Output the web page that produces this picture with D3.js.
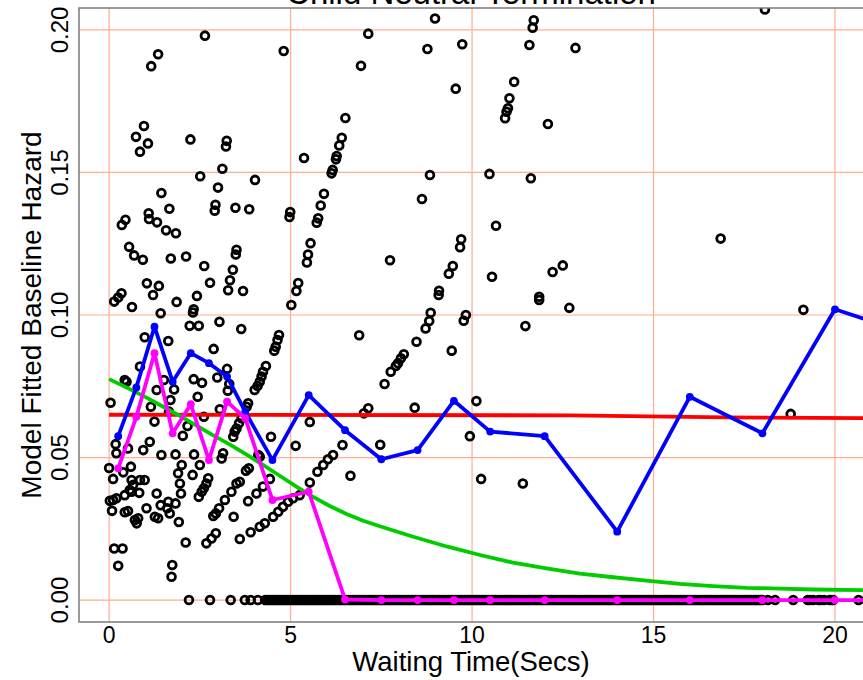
<!DOCTYPE html>
<html lang="en">
<head>
    <meta charset="UTF-8">
    <title>Child Neutral Termination</title>
    <script src="https://d3js.org/d3.v7.min.js"></script>
    <style>
        body { margin: 0; background: #fff; }
        svg { display: block; font-family: "Liberation Sans", Arial, sans-serif; }
    </style>
</head>
<body>
    <svg width="863" height="680"></svg>
    <script>
        // tick values
        const xTicks = [0, 5, 10, 15, 20];
        const yTicks = [0, 0.05, 0.10, 0.15, 0.20];

        const obsX = [4.81, 7.14, 6.94, 6.51, 6.41, 6.34, 6.27, 6.25, 6.16, 6.13, 5.37, 4.02, 4.99, 4.97, 5.92, 5.83, 5.76, 5.72,
            5.55, 5.48, 5.45, 5.21, 5.16, 7.74, 8.98, 8.77, 9.73, 9.55, 8.84, 8.62, 9.70, 9.67, 9.47, 9.36, 9.09, 9.08,
            11.70, 11.67, 11.58, 12.85, 11.16, 11.03, 10.99, 10.95, 10.91, 12.09, 10.48, 11.62, 10.66, 10.55, 12.22, 12.50,
            11.85, 16.85, 18.07, 2.64, 1.35, 1.16, 0.96, 0.74, 1.07, 0.85, 2.24, 3.24, 3.22, 2.51, 3.12, 1.44, 3.00, 1.66,
            1.09, 1.10, 1.32, 2.93, 2.91, 3.48, 3.86, 0.45, 0.35, 1.57, 1.84, 0.55, 0.69, 0.93, 1.70, 2.12, 2.62, 3.51,
            3.49, 3.41, 3.33, 3.28, 3.69, 2.78, 1.04, 1.37, 1.21, 0.34, 0.25, 0.14, 0.63, 1.86, 2.42, 2.33, 2.31, 1.42,
            5.02, 2.22, 2.47, 3.04, 3.64, 4.68, 4.64, 4.59, 4.55, 0.98, 1.63, 2.88, 3.25, 0.85, 4.32, 6.89, 0.43, 0.48,
            0.04, 1.31, 1.79, 1.51, 2.33, 2.56, 2.98, 4.24, 4.20, 4.15, 4.09, 4.01, 3.83, 3.79, 3.65, 3.58, 3.51, 3.46,
            3.42, 2.44, 1.69, 1.15, 1.25, 2.03, 2.16, 1.65, 2.61, 3.05, 3.27, 3.31, 0.18, 0.20, 0.52, 0.94, 1.12, 1.44,
            1.83, 2.34, 3.14, 3.10, 4.46, 5.14, 5.53, 7.47, 0.00, 0.11, 0.39, 0.60, 0.62, 0.66, 0.57, 0.85, 0.98, 2.00,
            1.90, 1.95, 1.98, 2.30, 2.50, 2.73, 2.68, 2.61, 2.55, 2.47, 0.02, 0.11, 0.20, 0.43, 0.62, 0.83, 1.31, 0.08,
            0.43, 0.52, 0.71, 0.80, 0.76, 1.03, 1.26, 1.35, 1.42, 1.63, 1.67, 1.60, 1.83, 1.92, 3.19, 3.03, 2.94, 2.87,
            3.37, 3.51, 3.60, 3.77, 3.85, 4.11, 4.15, 3.43, 3.83, 4.06, 4.24, 4.43, 3.60, 3.90, 4.15, 4.29, 4.52, 4.66,
            4.79, 4.93, 5.07, 5.25, 5.53, 2.68, 2.82, 2.94, 2.11, 0.14, 0.37, 0.25, 1.74, 1.72, 5.74, 5.90, 6.03, 6.17,
            6.43, 6.65, 7.02, 7.14, 8.86, 8.82, 8.72, 8.47, 8.12, 8.04, 7.96, 7.90, 7.76, 7.59, 9.83, 9.77, 9.44, 11.47,
            12.68, 11.85, 8.42, 10.12, 9.94, 10.25, 11.40, 19.13, 18.78];
        const obsY = [0.1926, 0.1987, 0.1874, 0.1691, 0.1622, 0.1595, 0.1558, 0.1546, 0.1509, 0.1497, 0.1551, 0.1474, 0.1361, 0.1344, 0.1425, 0.1384, 0.1339, 0.1324,
            0.1252, 0.1212, 0.1184, 0.1112, 0.1084, 0.1192, 0.2040, 0.1933, 0.1950, 0.1794, 0.1491, 0.1407, 0.1266, 0.1238, 0.1172, 0.1145, 0.1085, 0.1070,
            0.2034, 0.2008, 0.1947, 0.1937, 0.1818, 0.1760, 0.1725, 0.1713, 0.1690, 0.1670, 0.1495, 0.1480, 0.1313, 0.1134, 0.1151, 0.1174,
            0.1064, 0.1268, 0.2072, 0.1980, 0.1915, 0.1873, 0.1663, 0.1625, 0.1602, 0.1573, 0.1616, 0.1611, 0.1591, 0.1487, 0.1513, 0.1428, 0.1447, 0.1373,
            0.1357, 0.1337, 0.1325, 0.1387, 0.1366, 0.1376, 0.1371, 0.1334, 0.1316, 0.1297, 0.1287, 0.1239, 0.1209, 0.1194, 0.1198, 0.1205, 0.1172, 0.1229,
            0.1212, 0.1159, 0.1122, 0.1087, 0.1084, 0.1113, 0.1111, 0.1102, 0.1070, 0.1076, 0.1061, 0.1047, 0.1028, 0.1046, 0.1067, 0.1020, 0.1009, 0.1006,
            0.1035, 0.0962, 0.0962, 0.0976, 0.0951, 0.0930, 0.0912, 0.0889, 0.0875, 0.0922, 0.0909, 0.0881, 0.0811, 0.0819, 0.0821, 0.0929, 0.0772, 0.0766,
            0.0692, 0.0737, 0.0739, 0.0772, 0.0775, 0.0762, 0.0781, 0.0801, 0.0784, 0.0766, 0.0751, 0.0737, 0.0690, 0.0678, 0.0638, 0.0620, 0.0602, 0.0591,
            0.0573, 0.0713, 0.0702, 0.0678, 0.0626, 0.0576, 0.0611, 0.0661, 0.0643, 0.0669, 0.0734, 0.0758, 0.0547, 0.0515, 0.0532, 0.0526, 0.0555, 0.0509,
            0.0511, 0.0511, 0.0515, 0.0497, 0.0573, 0.0541, 0.0625, 0.0545, 0.0463, 0.0425, 0.0448, 0.0468, 0.0421, 0.0404, 0.0386, 0.0421, 0.0421, 0.0474,
            0.0445, 0.0409, 0.0374, 0.0439, 0.0474, 0.0427, 0.0409, 0.0392, 0.0380, 0.0362, 0.0348, 0.0351, 0.0357, 0.0368, 0.0380, 0.0376, 0.0374, 0.0313,
            0.0308, 0.0312, 0.0281, 0.0287, 0.0269, 0.0322, 0.0292, 0.0287, 0.0333, 0.0345, 0.0304, 0.0322, 0.0339, 0.0274, 0.0351, 0.0322, 0.0304, 0.0295,
            0.0380, 0.0409, 0.0415, 0.0454, 0.0462, 0.0509, 0.0503, 0.0292, 0.0347, 0.0374, 0.0398, 0.0425, 0.0214, 0.0238, 0.0257, 0.0269, 0.0292, 0.0310,
            0.0327, 0.0345, 0.0357, 0.0368, 0.0412, 0.0199, 0.0216, 0.0234, 0.0202, 0.0181, 0.0181, 0.0120, 0.0123, 0.0082, 0.0450, 0.0474, 0.0494, 0.0509,
            0.0544, 0.0436, 0.0655, 0.0673, 0.1008, 0.0979, 0.0953, 0.0906, 0.0862, 0.0848, 0.0831, 0.0821, 0.0801, 0.0758, 0.1000, 0.0980, 0.0875, 0.0961,
            0.1025, 0.1053, 0.0675, 0.0698, 0.0575, 0.0425, 0.0409, 0.1018, 0.0653];

        // times with zero observed hazard
        const zeroX = [2.2, 2.78, 3.35, 3.74, 3.9, 4.1, 4.3, 4.4, 4.5, 4.6, 4.7, 4.8, 4.9, 5.0, 5.1, 5.2, 5.3, 5.4, 5.5, 5.6,
            5.7, 5.8, 5.9, 6.0, 6.1, 6.2, 6.3, 6.4, 6.5, 6.6, 6.7, 6.8, 6.9, 7.0, 7.1, 7.2, 7.3, 7.4, 7.5, 7.6, 7.7, 7.8,
            7.9, 8.0, 8.1, 8.2, 8.3, 8.4, 8.5, 8.6, 8.7, 8.8, 8.9, 9.0, 9.1, 9.2, 9.3, 9.4, 9.5, 9.6, 9.7, 9.8, 9.9, 10.0,
            10.1, 10.2, 10.3, 10.4, 10.5, 10.6, 10.7, 10.8, 10.9, 11.0, 11.1, 11.2, 11.3, 11.4, 11.5, 11.6, 11.7, 11.8,
            11.9, 12.0, 12.1, 12.2, 12.3, 12.4, 12.5, 12.6, 12.7, 12.8, 12.9, 13.0, 13.1, 13.2, 13.3, 13.4, 13.5, 13.6,
            13.7, 13.8, 13.9, 14.0, 14.1, 14.2, 14.3, 14.4, 14.5, 14.6, 14.7, 14.8, 14.9, 15.0, 15.1, 15.2, 15.3, 15.4,
            15.5, 15.6, 15.7, 15.8, 15.9, 16.0, 16.1, 16.2, 16.3, 16.4, 16.5, 16.6, 16.7, 16.8, 16.9, 17.0, 17.1, 17.2,
            17.3, 17.4, 17.5, 17.6, 17.7, 17.8, 17.9, 18.0, 18.15, 18.35, 18.85, 19.25, 19.4, 19.55, 19.7, 19.85, 19.95, 20.65];
        const zeroX2 = [4.35, 4.45, 4.55, 4.65, 4.75, 4.85, 4.95, 5.05, 5.15, 5.25, 5.35, 5.45, 5.55, 5.65, 5.75, 5.85,
            5.95, 6.05, 6.15, 6.25, 6.35, 6.45, 6.55, 6.65, 6.75, 6.85, 6.95, 7.05, 7.15, 7.25, 7.35, 7.45, 7.55, 7.65,
            7.75, 7.85, 7.95, 8.05, 8.15, 8.25, 8.35, 8.45, 8.55, 8.65, 8.75, 8.85, 8.95, 9.05, 9.15, 9.25, 9.35, 9.45,
            9.55, 9.65, 9.75, 9.85, 9.95, 10.05, 10.15, 10.25, 10.35, 10.45, 10.55, 10.65, 10.75, 10.85, 10.95, 11.05,
            11.15, 11.25, 11.35, 11.45, 11.55, 11.65, 11.75, 11.85, 11.95, 12.05, 12.15, 12.25, 12.35, 12.45, 12.55,
            12.65, 12.75, 12.85, 12.95, 13.05, 13.15, 13.25, 13.35, 13.45, 13.55, 13.65, 13.75, 13.85, 13.95, 14.05,
            14.15, 14.25, 14.35, 14.45, 14.55, 14.65, 14.75, 14.85, 14.95, 15.05, 15.15, 15.25, 15.35, 15.45, 15.55,
            15.65, 15.75, 15.85, 15.95, 16.05, 16.15, 16.25, 16.35, 16.45, 16.55, 16.65, 16.75, 16.85, 16.95, 17.05,
            17.15, 17.25, 17.35, 17.45, 17.55, 17.65, 17.75, 17.85, 17.95, 19.3, 19.6, 19.9];

        // constant-ish fitted hazard (red)
        const redX = [0, 12.7, 17.0, 20.8];
        const redY = [0.0650, 0.0648, 0.0641, 0.0638];

        // decaying fitted hazard (green)
        const greenX = [0, 0.57, 1.03, 1.49, 1.95, 2.41, 2.87, 3.33, 3.79, 4.24, 4.70, 5.16, 5.62, 6.08, 6.54, 7.0, 7.46,
            8.38, 9.30, 10.22, 11.13, 12.05, 12.97, 13.89, 14.81, 15.73, 16.64, 17.56, 18.48, 19.40, 20.77];
        const greenY = [0.0775, 0.0740, 0.0710, 0.0678, 0.0646, 0.0612, 0.0578, 0.0545, 0.0510, 0.0474, 0.0436, 0.0398, 0.0362,
            0.0330, 0.0302, 0.0278, 0.0259, 0.0222, 0.0188, 0.0158, 0.0131, 0.0111, 0.0093, 0.0080, 0.0068, 0.0057, 0.0049,
            0.0043, 0.0040, 0.0037, 0.0035];

        // interval-based estimates (blue, magenta)
        const stepX = [0.25, 0.75, 1.25, 1.75, 2.25, 2.75, 3.25, 3.75, 4.5, 5.5, 6.5, 7.5, 8.5, 9.5, 10.5, 12, 14, 16, 18, 20, 22];
        const blueY = [0.0575, 0.0746, 0.0959, 0.0766, 0.0866, 0.0831, 0.0784, 0.0661, 0.0491, 0.0719, 0.0596, 0.0494,
            0.0526, 0.0699, 0.0591, 0.0575, 0.0240, 0.0713, 0.0585, 0.1020, 0.0937];
        const magentaY = [0.0462, 0.0643, 0.0866, 0.0585, 0.0687, 0.0491, 0.0696, 0.0638, 0.0351, 0.0380, 0.0002,
            0, 0, 0, 0, 0, 0, 0, 0, 0, 0];

        const svg = d3.select("svg");
        const plotLeft = 79, plotRight = 864, plotTop = 8, plotBottom = 622;

        const x = d3.scaleLinear().domain([-0.83, 20.8]).range([plotLeft, plotRight]);
        const y = d3.scaleLinear().domain([-0.0077, 0.2077]).range([plotBottom, plotTop]);

        svg.append("defs").append("clipPath").attr("id", "plotClip")
            .append("rect").attr("x", plotLeft).attr("y", plotTop)
            .attr("width", plotRight - plotLeft).attr("height", plotBottom - plotTop);

        // grid
        const grid = svg.append("g").attr("stroke", "#ffac8f").attr("stroke-width", 1.2);
        grid.selectAll(".vg").data(xTicks).join("line")
            .attr("x1", d => x(d)).attr("x2", d => x(d))
            .attr("y1", plotTop).attr("y2", plotBottom);
        grid.selectAll(".hg").data(yTicks).join("line")
            .attr("y1", d => y(d)).attr("y2", d => y(d))
            .attr("x1", plotLeft).attr("x2", plotRight);

        const plot = svg.append("g").attr("clip-path", "url(#plotClip)");

        // scatter of observed hazards
        const pts = obsX.map((d, i) => [d, obsY[i]])
            .concat(zeroX.map(d => [d, 0]), zeroX2.map(d => [d, 0]));
        plot.append("g")
            .attr("fill", "none").attr("stroke", "#000").attr("stroke-width", 2.8)
            .selectAll("circle").data(pts).join("circle")
            .attr("cx", d => x(d[0])).attr("cy", d => y(d[1])).attr("r", 3.9);

        const line = d3.line().x(d => x(d[0])).y(d => y(d[1]));

        function drawSeries(xs, ys, color, markers) {
            const data = xs.map((d, i) => [d, ys[i]]);
            plot.append("path").datum(data)
                .attr("fill", "none").attr("stroke", color)
                .attr("stroke-width", 3.8).attr("stroke-linejoin", "round")
                .attr("d", line);
            if (markers) {
                plot.append("g").attr("fill", color)
                    .selectAll("circle").data(data).join("circle")
                    .attr("cx", d => x(d[0])).attr("cy", d => y(d[1])).attr("r", 3.9);
            }
        }

        drawSeries(redX, redY, "#ff0000", false);
        drawSeries(greenX, greenY, "#00cc00", false);
        drawSeries(stepX, blueY, "#0000ff", true);
        drawSeries(stepX, magentaY, "#ff00ff", true);

        // frame
        svg.append("rect")
            .attr("x", plotLeft).attr("y", plotTop)
            .attr("width", plotRight - plotLeft).attr("height", plotBottom - plotTop)
            .attr("fill", "none").attr("stroke", "#7a7a7a").attr("stroke-width", 1.5);

        // tick labels
        svg.append("g").selectAll("text").data(xTicks).join("text")
            .attr("x", d => x(d)).attr("y", 643)
            .attr("text-anchor", "middle").attr("font-size", 23)
            .text(d => d);
        svg.append("g").selectAll("text").data(yTicks).join("text")
            .attr("transform", d => `translate(68,${y(d)}) rotate(-90)`)
            .attr("text-anchor", "middle").attr("font-size", 24)
            .text(d => d3.format(".2f")(d));

        // axis titles
        svg.append("text")
            .attr("x", (plotLeft + 863) / 2).attr("y", 671)
            .attr("text-anchor", "middle").attr("font-size", 27.5)
            .text("Waiting Time(Secs)");
        svg.append("text")
            .attr("transform", `translate(41,${(plotTop + plotBottom) / 2}) rotate(-90)`)
            .attr("text-anchor", "middle").attr("font-size", 28)
            .text("Model Fitted Baseline Hazard");

        // title, mostly above the visible area
        svg.append("text")
            .attr("x", 471).attr("y", 4)
            .attr("text-anchor", "middle").attr("font-size", 33)
            .text("Child Neutral Termination");
    </script>
</body>
</html>
